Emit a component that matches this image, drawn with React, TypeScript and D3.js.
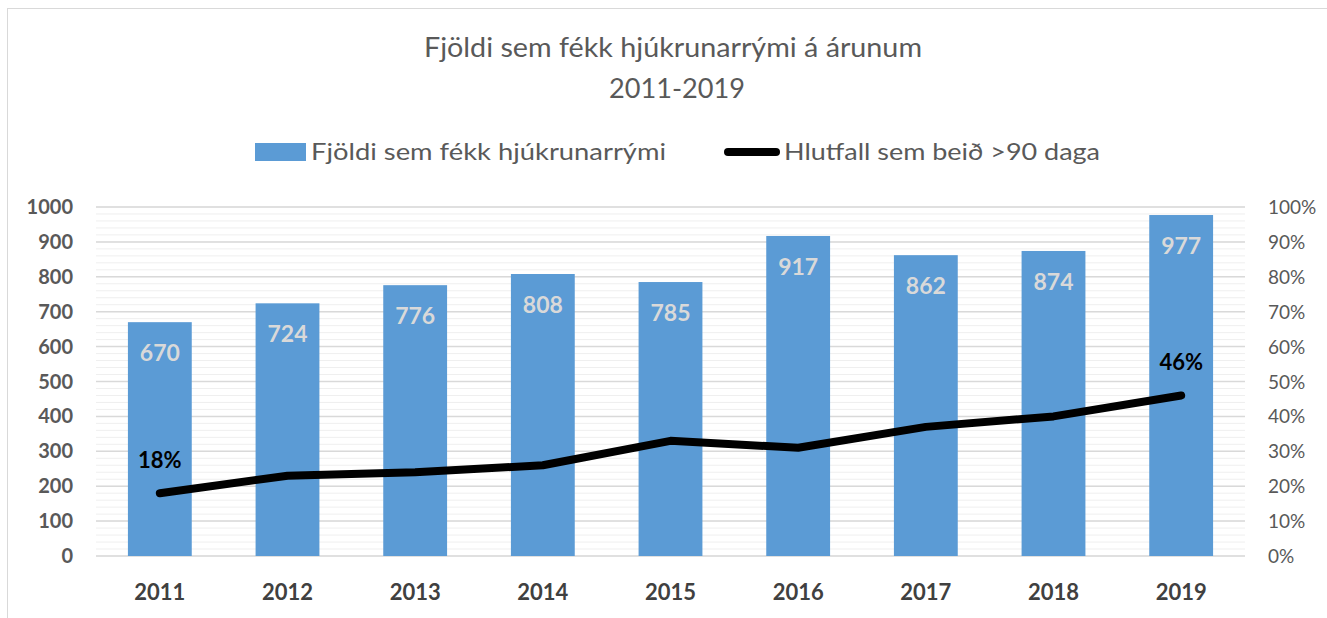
import React from "react";
import * as d3 from "d3";

const years = ["2011", "2012", "2013", "2014", "2015", "2016", "2017", "2018", "2019"];
const counts = [670, 724, 776, 808, 785, 917, 862, 874, 977];
const shares = [0.18, 0.23, 0.24, 0.26, 0.33, 0.31, 0.37, 0.4, 0.46];
const labelledShares = ["2011", "2019"];
const leftTicks = [0, 100, 200, 300, 400, 500, 600, 700, 800, 900, 1000];
const rightTicks = [0, 0.1, 0.2, 0.3, 0.4, 0.5, 0.6, 0.7, 0.8, 0.9, 1];

const W = 1327;
const H = 618;
const font = "Lato, 'Open Sans', sans-serif";
const grey = "#595959";

export default function App() {
  const x = d3.scaleBand().domain(years).range([96, 1245]).paddingInner(0.5).paddingOuter(0.25);
  const y = d3.scaleLinear().domain([0, 1000]).range([556, 207]);
  const yr = d3.scaleLinear().domain([0, 1]).range([556, 207]);
  const minor = d3.range(0, 1001, 20);
  const cx = (d: string) => (x(d) as number) + x.bandwidth() / 2;

  const line = d3
    .line<number>()
    .x((d, i) => cx(years[i]))
    .y((d) => yr(d));

  return (
    <div style={{ position: "absolute", left: 0, top: 0 }}>
      <svg width={W} height={H} style={{ display: "block", fontFamily: font }}>
        <rect x={0} y={0} width={W} height={H} fill="#fff" />
        <rect x={7.5} y={8.5} width={W + 10} height={H + 10} fill="none" stroke="#d9d9d9" />

        {/* title */}
        <text x={673} y={57} textAnchor="middle" fontSize={26} fill={grey} textLength={498} lengthAdjust="spacingAndGlyphs">
          Fjöldi sem fékk hjúkrunarrými á árunum
        </text>
        <text x={677} y={98} textAnchor="middle" fontSize={27} fill={grey} textLength={136} lengthAdjust="spacingAndGlyphs">
          2011-2019
        </text>

        {/* legend */}
        <rect x={255} y={143} width={51} height={18} fill="#5b9bd5" />
        <text x={311} y={160} fontSize={23} fill={grey} textLength={355} lengthAdjust="spacingAndGlyphs">
          Fjöldi sem fékk hjúkrunarrými
        </text>
        <line x1={728} x2={776} y1={152} y2={152} stroke="#000" strokeWidth={8} strokeLinecap="round" />
        <text x={784} y={160} fontSize={23} fill={grey} textLength={316} lengthAdjust="spacingAndGlyphs">
          Hlutfall sem beið &gt;90 daga
        </text>

        {/* gridlines */}
        {minor.map((v) => (
          <line key={"m" + v} x1={96} x2={1245} y1={y(v)} y2={y(v)} stroke="#efefef" strokeWidth={1} />
        ))}
        {leftTicks.map((v) => (
          <line key={"g" + v} x1={96} x2={1245} y1={y(v)} y2={y(v)} stroke="#d9d9d9" strokeWidth={1.5} />
        ))}

        {/* axis labels */}
        {leftTicks.map((v) => (
          <text key={"l" + v} x={73} y={y(v) + 7} textAnchor="end" fontSize={20} fontWeight="bold" fill={grey}>
            {v}
          </text>
        ))}
        {rightTicks.map((v) => (
          <text key={"r" + v} x={1268} y={yr(v) + 7} fontSize={19} fill={grey}>
            {d3.format(".0%")(v)}
          </text>
        ))}
        {years.map((d) => (
          <text key={"x" + d} x={cx(d)} y={600} textAnchor="middle" fontSize={22} fontWeight="bold" fill="#404040">
            {d}
          </text>
        ))}

        {/* bars */}
        {years.map((d, i) => (
          <g key={"b" + d}>
            <rect x={x(d)} y={y(counts[i])} width={x.bandwidth()} height={y(0) - y(counts[i])} fill="#5b9bd5" />
            <text x={cx(d)} y={y(counts[i]) + 39} textAnchor="middle" fontSize={23} fontWeight="bold" fill="#d9d9d9">
              {counts[i]}
            </text>
          </g>
        ))}

        {/* line */}
        <path d={line(shares) || ""} fill="none" stroke="#000" strokeWidth={8} strokeLinejoin="round" strokeLinecap="round" />
        {years.map((d, i) =>
          labelledShares.includes(d) ? (
            <text key={"p" + d} x={cx(d)} y={yr(shares[i]) - 25} textAnchor="middle" fontSize={22} fontWeight="bold" fill="#000">
              {d3.format(".0%")(shares[i])}
            </text>
          ) : null
        )}
      </svg>
    </div>
  );
}
